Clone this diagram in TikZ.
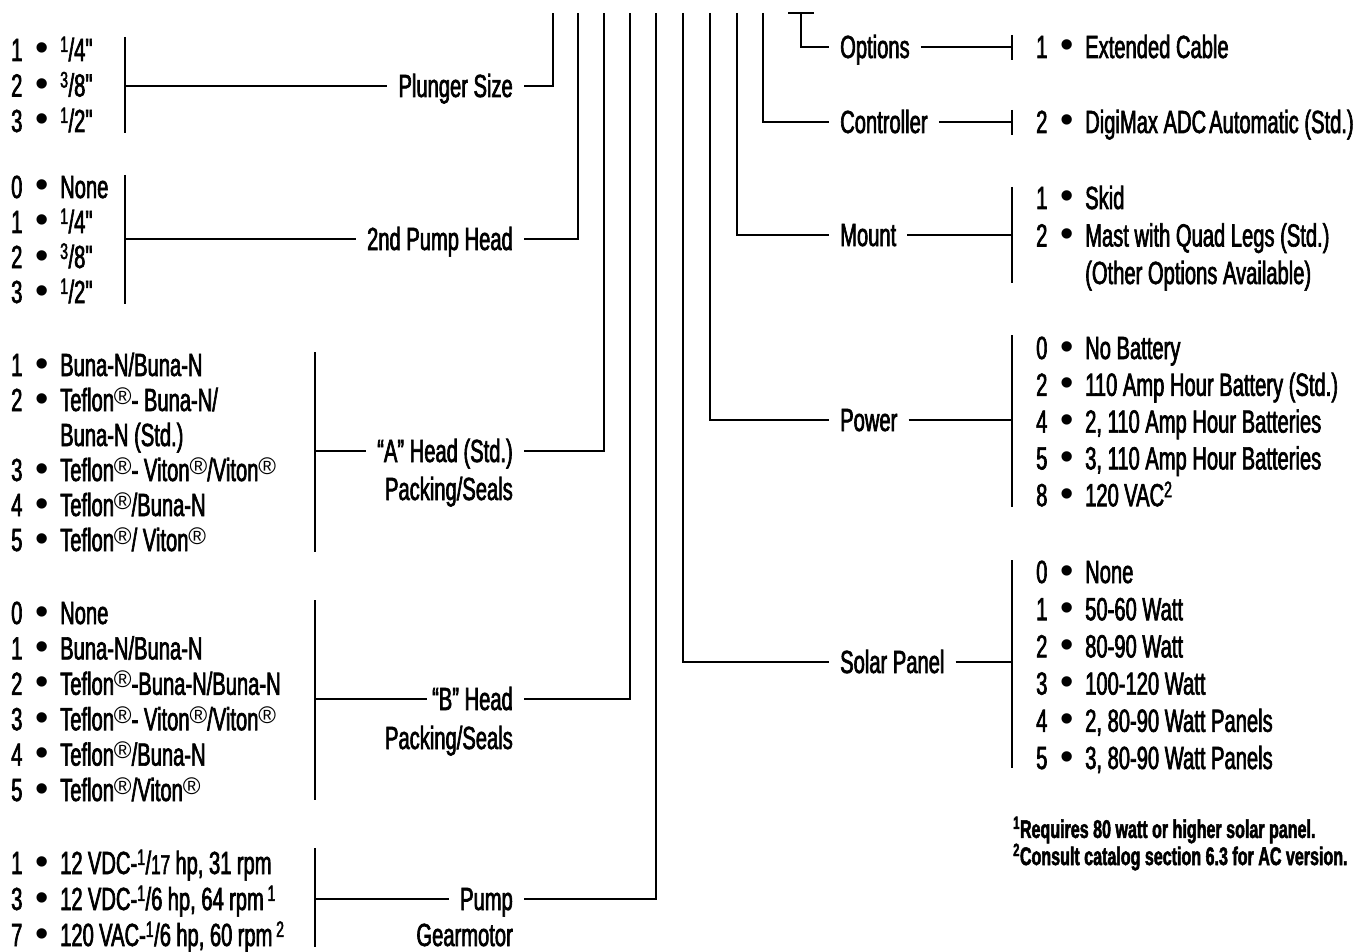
\documentclass[tikz,border=0pt]{standalone}
\usepackage{fontspec}
\setmainfont{Liberation Sans}[FakeStretch=0.63, FakeBold=2, Ligatures=TeXOff]
\newfontfamily\plainsf{Liberation Sans}
\usetikzlibrary{positioning}

\newcommand\optfont{\fontsize{32}{36}\selectfont}
\newcommand\notefont{\fontsize{25.5}{27}\selectfont\bfseries}
\newcommand\itm[2]{\makebox[12pt][l]{#1}\makebox[37pt]{\plainsf\fontsize{38}{38}\selectfont\textbullet}#2}
\newcommand\cnt[1]{\hspace*{49pt}#1}
\newcommand\frc[2]{\textsuperscript{#1}/#2}
\newcommand\regm{\raisebox{7pt}{\plainsf\fontsize{24}{24}\selectfont ®}}

\tikzset{
  opt/.style={anchor=west, inner sep=0pt, text height=22pt, text depth=0pt, font=\optfont},
  lbl/.style={inner xsep=11pt, inner ysep=0pt, text height=22pt, text depth=0pt, font=\optfont},
  wire/.style={line width=1.8pt},
}

\begin{document}
\begin{tikzpicture}[x=1pt,y=-1pt]
\useasboundingbox (0,0) rectangle (1357,952);

% tops of the trunk lines
\coordinate (tPl) at (553,13);
\coordinate (tPh) at (578,13);
\coordinate (tHa) at (604,13);
\coordinate (tHb) at (630,13);
\coordinate (tGm) at (656,13);
\coordinate (tSp) at (683,13);
\coordinate (tPw) at (710,13);
\coordinate (tMt) at (737,13);
\coordinate (tCt) at (763,13);
\coordinate (tOp) at (801,13);

% left side: plunger size
\foreach \txt [count=\i] in {{\itm{1}{\frc{1}{4"}}},{\itm{2}{\frc{3}{8"}}},{\itm{3}{\frc{1}{2"}}}}
  \node[opt] (pl\i) at (11,{50+35.5*(\i-1)}) {\txt};
\draw[wire] (125,37) coordinate (plA) -- (125,133);
\node[lbl,anchor=east] (plL) at (524,86) {Plunger Size};
\draw[wire] (plA |- plL) -- (plL.west);
\draw[wire] (plL.east) -| (tPl);

% 2nd pump head
\foreach \txt [count=\i] in {{\itm{0}{None}},{\itm{1}{\frc{1}{4"}}},{\itm{2}{\frc{3}{8"}}},{\itm{3}{\frc{1}{2"}}}}
  \node[opt] (ph\i) at (11,{187+35*(\i-1)}) {\txt};
\draw[wire] (125,175) coordinate (phA) -- (125,304);
\node[lbl,anchor=east] (phL) at (524,239) {2nd Pump Head};
\draw[wire] (phA |- phL) -- (phL.west);
\draw[wire] (phL.east) -| (tPh);

% "A" head
\foreach \txt [count=\i] in {{\itm{1}{Buna-N/Buna-N}},{\itm{2}{Teflon\regm- Buna-N/}},{\cnt{Buna-N (Std.)}},
    {\itm{3}{Teflon\regm- Viton\regm/Viton\regm}},{\itm{4}{Teflon\regm/Buna-N}},{\itm{5}{Teflon\regm/ Viton\regm}}}
  \node[opt] (ha\i) at (11,{365+35*(\i-1)}) {\txt};
\draw[wire] (315,352) coordinate (haA) -- (315,552);
\node[lbl,anchor=east] (haL) at (524,451) {“A” Head (Std.)};
\node[lbl,anchor=east] (haL2) at (524,489) {Packing/Seals};
\draw[wire] (haA |- haL) -- (haL.west);
\draw[wire] (haL.east) -| (tHa);

% "B" head
\foreach \txt [count=\i] in {{\itm{0}{None}},{\itm{1}{Buna-N/Buna-N}},{\itm{2}{Teflon\regm-Buna-N/Buna-N}},
    {\itm{3}{Teflon\regm- Viton\regm/Viton\regm}},{\itm{4}{Teflon\regm/Buna-N}},{\itm{5}{Teflon\regm/Viton\regm}}}
  \node[opt] (hb\i) at (11,{613+35.4*(\i-1)}) {\txt};
\draw[wire] (315,600) coordinate (hbA) -- (315,800);
\node[lbl,anchor=east,inner xsep=5pt] (hbL) at (518,699) {“B” Head};
\node[lbl,anchor=east] (hbL2) at (524,738) {Packing/Seals};
\draw[wire] (hbA |- hbL) -- (hbL.west);
\draw[wire] (hbL.east) ++(6pt,0) -| (tHb);

% pump gearmotor
\foreach \txt [count=\i] in {{\itm{1}{12\,VDC-\frc{1}{{\fontsize{27}{27}\selectfont17}}\,hp, 31\,rpm}},
    {\itm{3}{12\,VDC-\frc{1}{6}\,hp, 64\,rpm\textsuperscript{\,1}}},
    {\itm{7}{120\,VAC-\frc{1}{6}\,hp, 60\,rpm\textsuperscript{\,2}}}}
  \node[opt] (gm\i) at (11,{863+36*(\i-1)}) {\txt};
\draw[wire] (315,848) coordinate (gmA) -- (315,947);
\node[lbl,anchor=east] (gmL) at (524,899) {Pump};
\node[lbl,anchor=east] (gmL2) at (524,935) {Gearmotor};
\draw[wire] (gmA |- gmL) -- (gmL.west);
\draw[wire] (gmL.east) -| (tGm);

% right side: options
\draw[wire] (788,13) -- (814,13);
\node[lbl,anchor=west] (opL) at (829,47) {Options};
\draw[wire] (tOp) |- (opL.west);
\draw[wire] (1012,35) coordinate (opA) -- (1012,60);
\draw[wire] (opL.east) -- (opL.east -| opA);
\node[opt] (op1) at (1036,47) {\itm{1}{Extended Cable}};

% controller
\node[lbl,anchor=west] (ctL) at (829,122) {Controller};
\draw[wire] (tCt) |- (ctL.west);
\draw[wire] (1012,110) coordinate (ctA) -- (1012,135);
\draw[wire] (ctL.east) -- (ctL.east -| ctA);
\node[opt] (ct1) at (1036,122) {\itm{2}{DigiMax ADC\hspace{3pt}Automatic (Std.)}};

% mount
\foreach \txt [count=\i] in {{\itm{1}{Skid}},{\itm{2}{Mast with Quad Legs (Std.)}},{\cnt{(Other Options Available)}}}
  \node[opt] (mt\i) at (1036,{198+37.5*(\i-1)}) {\txt};
\node[lbl,anchor=west] (mtL) at (829,235) {Mount};
\draw[wire] (tMt) |- (mtL.west);
\draw[wire] (1012,187) coordinate (mtA) -- (1012,283);
\draw[wire] (mtL.east) -- (mtL.east -| mtA);

% power
\foreach \txt [count=\i] in {{\itm{0}{No Battery}},{\itm{2}{110 Amp Hour Battery (Std.)}},{\itm{4}{2, 110 Amp Hour Batteries}},
    {\itm{5}{3, 110 Amp Hour Batteries}},{\itm{8}{120\,VAC\textsuperscript{2}}}}
  \node[opt] (pw\i) at (1036,{348+36.8*(\i-1)}) {\txt};
\node[lbl,anchor=west] (pwL) at (829,420) {Power};
\draw[wire] (tPw) |- (pwL.west);
\draw[wire] (1012,335) coordinate (pwA) -- (1012,507);
\draw[wire] (pwL.east) -- (pwL.east -| pwA);

% solar panel
\foreach \txt [count=\i] in {{\itm{0}{None}},{\itm{1}{50-60 Watt}},{\itm{2}{80-90 Watt}},{\itm{3}{100-120 Watt}},
    {\itm{4}{2, 80-90 Watt Panels}},{\itm{5}{3, 80-90 Watt Panels}}}
  \node[opt] (sp\i) at (1036,{572+37.2*(\i-1)}) {\txt};
\node[lbl,anchor=west] (spL) at (829,662) {Solar Panel};
\draw[wire] (tSp) |- (spL.west);
\draw[wire] (1012,560) coordinate (spA) -- (1012,768);
\draw[wire] (spL.east) -- (spL.east -| spA);

% footnotes
\node[anchor=west,inner sep=0pt,font=\notefont] (fn1) at (1013,830) {\textsuperscript{1}Requires 80 watt or higher solar panel.};
\node[anchor=west,inner sep=0pt,font=\notefont] (fn2) at (1013,857) {\textsuperscript{2}Consult catalog section 6.3 for AC version.};
\end{tikzpicture}
\end{document}
